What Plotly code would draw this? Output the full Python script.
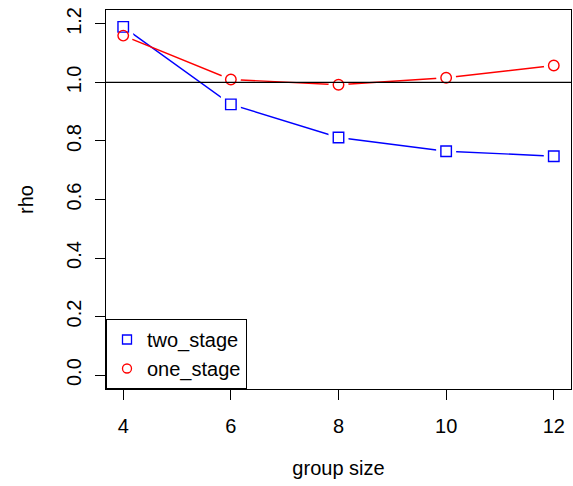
import plotly.graph_objects as go

group_size = [4, 6, 8, 10, 12]
two_stage = [1.19, 0.925, 0.812, 0.765, 0.748]
one_stage = [1.160, 1.010, 0.992, 1.016, 1.058]
x_ticks = [4, 6, 8, 10, 12]
y_ticks = [0.0, 0.2, 0.4, 0.6, 0.8, 1.0, 1.2]

BLUE = "#0000FF"
RED = "#FF0000"
FONT = "Liberation Sans, Arial, sans-serif"

fig = go.Figure()

series = [("two_stage", two_stage, BLUE, "square-open"),
          ("one_stage", one_stage, RED, "circle-open")]

for name, vals, col, sym in series:
    fig.add_trace(go.Scatter(x=group_size, y=vals, mode="lines",
                             line=dict(color=col, width=1.4),
                             showlegend=False, hoverinfo="skip"))
for name, vals, col, sym in series:
    fig.add_trace(go.Scatter(x=group_size, y=vals, mode="markers",
                             marker=dict(symbol=sym.replace("-open", ""), size=20,
                                         color="white", line=dict(width=0)),
                             showlegend=False, hoverinfo="skip"))
for name, vals, col, sym in series:
    fig.add_trace(go.Scatter(x=group_size, y=vals, mode="markers", name=name,
                             showlegend=False,
                             marker=dict(symbol=sym, size=10.5, color=col,
                                         line=dict(width=1.4, color=col))))
# legend entries (marker only, as in the original)
for name, vals, col, sym in series:
    fig.add_trace(go.Scatter(x=[None], y=[None], mode="markers", name=name,
                             marker=dict(symbol=sym, size=9, color=col,
                                         line=dict(width=1.3, color=col))))

fig.add_shape(type="line", xref="paper", yref="y", x0=0, x1=1, y0=1.0, y1=1.0,
              line=dict(color="black", width=1.2))

fig.update_layout(
    width=573, height=486,
    margin=dict(l=106, r=2, t=10, b=97),
    paper_bgcolor="white", plot_bgcolor="white",
    font=dict(family=FONT, size=20, color="black"),
    showlegend=True,
    legend=dict(x=0, y=0, xanchor="left", yanchor="bottom",
                bordercolor="black", borderwidth=1, bgcolor="white",
                font=dict(size=20), tracegroupgap=0, itemwidth=30),
    xaxis=dict(range=[3.68, 12.32], tickvals=x_ticks, ticktext=[str(v) for v in x_ticks],
               showgrid=False, zeroline=False, showline=True, linecolor="black",
               linewidth=1, mirror=True, ticks="outside", ticklen=10, tickcolor="black",
               tickfont=dict(size=20), ticklabelstandoff=9,
               title=dict(text="group size", font=dict(size=20), standoff=24)),
    yaxis=dict(range=[-0.0475, 1.2475], tickvals=y_ticks,
               ticktext=[f"{v:.1f}" for v in y_ticks],
               showgrid=False, zeroline=False, showline=True, linecolor="black",
               linewidth=1, mirror=True, ticks="outside", ticklen=10, tickcolor="black",
               tickangle=-90, tickfont=dict(size=20), ticklabelstandoff=6,
               title=dict(text="rho", font=dict(size=20), standoff=24)),
)

fig.write_html("out.html")
